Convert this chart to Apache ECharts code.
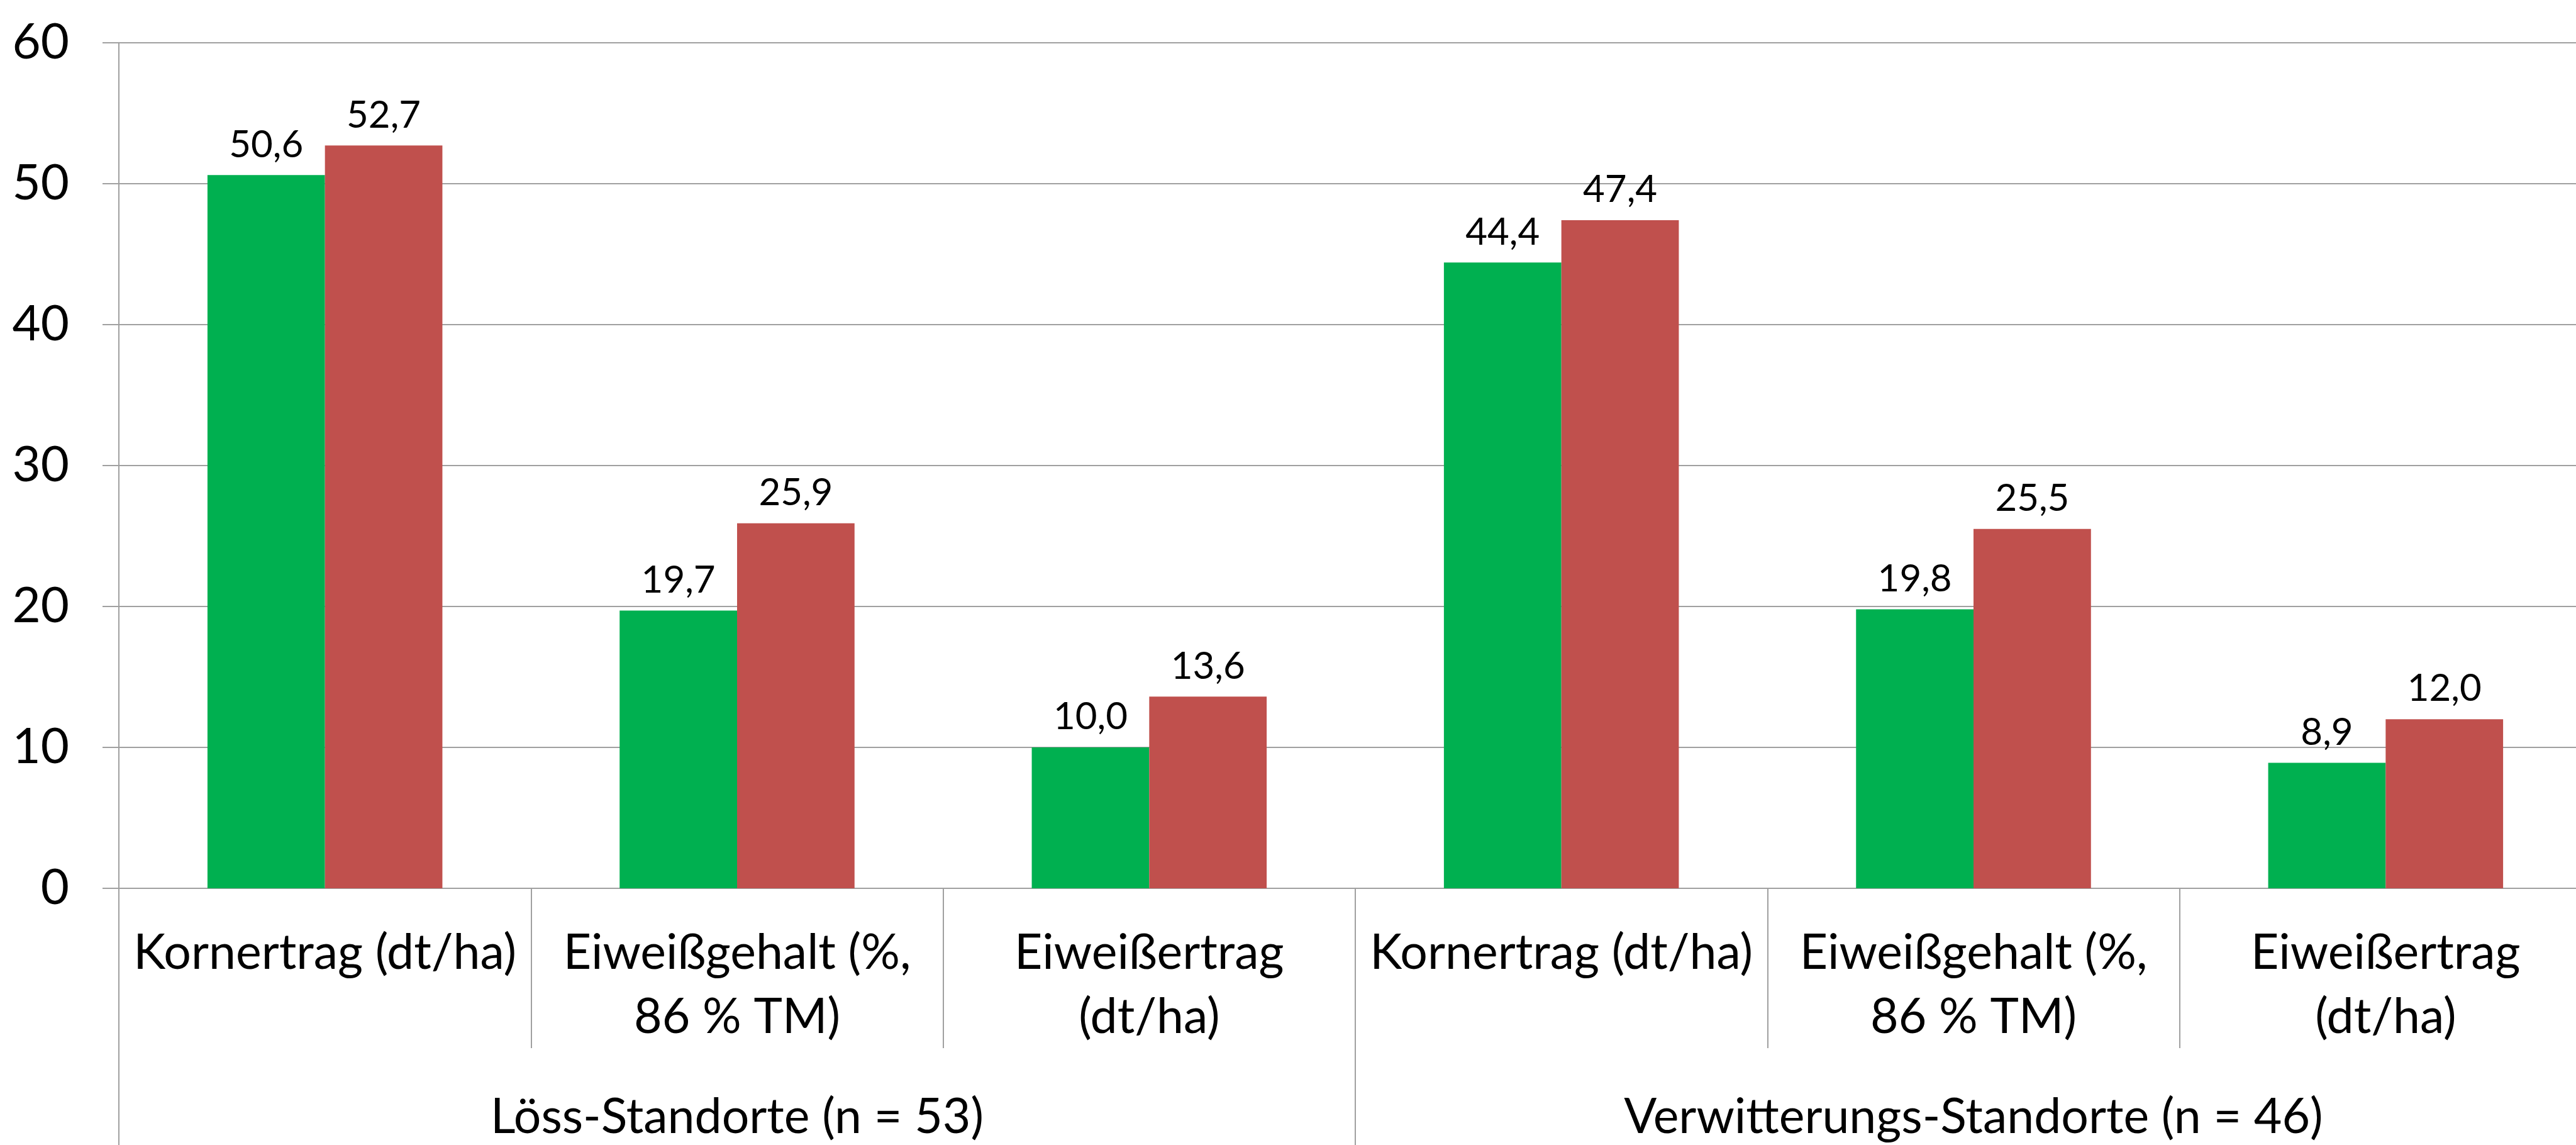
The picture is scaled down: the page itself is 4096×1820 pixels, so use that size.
<!DOCTYPE html>
<html>
<head>
<meta charset="utf-8">
<script src="https://cdn.jsdelivr.net/npm/echarts@6/dist/echarts.min.js"></script>
<style>
html,body{margin:0;padding:0;background:#fff;}
#c{width:4096px;height:1820px;}
</style>
</head>
<body>
<div id="c"></div>
<script>
const categories = ['Kornertrag (dt/ha)', 'Eiweißgehalt (%,\n86 % TM)', 'Eiweißertrag\n(dt/ha)',
                    'Kornertrag (dt/ha)', 'Eiweißgehalt (%,\n86 % TM)', 'Eiweißertrag\n(dt/ha)'];
const groups = ['Löss-Standorte (n = 53)', 'Verwitterungs-Standorte (n = 46)'];
const seriesA = [50.6, 19.7, 10.0, 44.4, 19.8, 8.9];
const seriesB = [52.7, 25.9, 13.6, 47.4, 25.5, 12.0];
const yTicks = [0, 10, 20, 30, 40, 50, 60];

const FONT = 'Lato';
const GRAY = '#a0a0a0';
const fmt = v => v.toFixed(1).replace('.', ',');

const chart = echarts.init(document.getElementById('c'), null, {renderer: 'canvas'});
chart.setOption({
  animation: false,
  backgroundColor: '#ffffff',
  grid: {left: 189, top: 67.7, bottom: 408, right: -25, containLabel: false, outerBoundsMode: 'none'},
  xAxis: [
    {
      type: 'category', position: 'bottom', data: categories,
      axisLine: {show: true, lineStyle: {color: GRAY, width: 2}},
      axisTick: {show: true, length: 254, lineStyle: {color: GRAY, width: 2}},
      axisLabel: {interval: 0, margin: 52, color: '#000', fontFamily: FONT, fontSize: 77,
                  lineHeight: 102, verticalAlign: 'top', align: 'center'},
      splitLine: {show: false}
    },
    {
      type: 'category', position: 'bottom', data: groups,
      axisLine: {show: false},
      axisTick: {show: true, length: 430, lineStyle: {color: GRAY, width: 2}},
      axisLabel: {interval: 0, margin: 314, color: '#000', fontFamily: FONT, fontSize: 77,
                  lineHeight: 100, verticalAlign: 'top', align: 'center'},
      splitLine: {show: false}
    }
  ],
  yAxis: {
    type: 'value', min: yTicks[0], max: yTicks[yTicks.length - 1], interval: 10,
    axisLine: {show: true, lineStyle: {color: GRAY, width: 2}},
    axisTick: {show: true, length: 26, lineStyle: {color: GRAY, width: 2}},
    axisLabel: {margin: 79, color: '#000', fontFamily: FONT, fontSize: 78},
    splitLine: {show: true, lineStyle: {color: GRAY, width: 2}}
  },
  series: [
    {
      type: 'bar', xAxisIndex: 0, data: seriesA, barGap: '0%', barCategoryGap: '43%',
      itemStyle: {color: '#00b050'},
      label: {show: true, position: 'top', distance: 18, formatter: p => fmt(p.value),
              color: '#000', fontFamily: FONT, fontSize: 60}
    },
    {
      type: 'bar', xAxisIndex: 0, data: seriesB, barGap: '0%', barCategoryGap: '43%',
      itemStyle: {color: '#c0504d'},
      label: {show: true, position: 'top', distance: 18, formatter: p => fmt(p.value),
              color: '#000', fontFamily: FONT, fontSize: 60}
    }
  ]
});
</script>
</body>
</html>
